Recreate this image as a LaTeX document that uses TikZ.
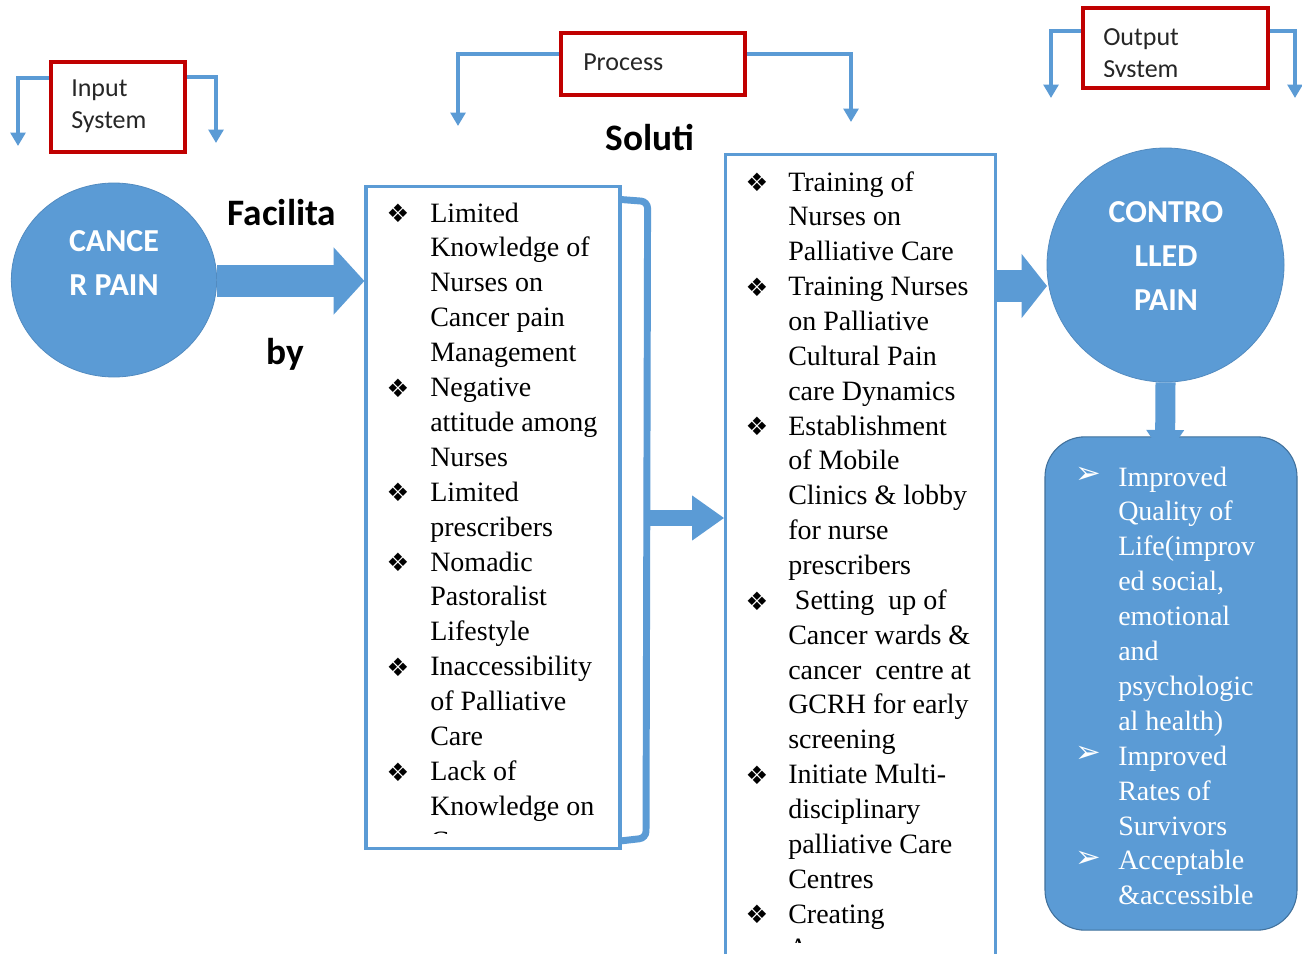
\documentclass[tikz,border=0pt]{standalone}
\usepackage{fontspec}
\setmainfont{Liberation Serif}
\newfontfamily\calib{Carlito}
\newfontfamily\djv{DejaVu Sans}
\usetikzlibrary{arrows.meta,shapes.geometric,calc}
\definecolor{ob}{HTML}{5B9BD5}
\definecolor{obd}{HTML}{41719C}
\definecolor{rd}{HTML}{C00000}
\definecolor{txt}{HTML}{262626}
\tikzset{
  redbox/.style={draw=rd, line width=3pt, fill=white, inner sep=0pt},
  elbow/.style={draw=ob, line width=3pt, -{Triangle[length=10pt,width=11pt]}},
  bluebox/.style={draw=ob, line width=2.4pt, fill=white, inner sep=0pt},
  bodytext/.style={anchor=base west, inner sep=0pt, text=black, font=\fontsize{21}{25}\selectfont},
  whitetext/.style={anchor=base west, inner sep=0pt, text=white, font=\fontsize{21}{25}\selectfont},
  dia/.style={anchor=center, inner sep=0pt, text=black, font=\djv\fontsize{19}{19}\selectfont},
  wbul/.style={anchor=center, inner sep=0pt, text=white, font=\djv\fontsize{23}{23}\selectfont},
  sanslabel/.style={inner sep=0pt, text=txt, font=\calib\fontsize{19.5}{24}\selectfont, align=left},
  boldlabel/.style={inner sep=0pt, text=black, font=\calib\bfseries\fontsize{28}{30}\selectfont},
  circ/.style={ellipse, fill=ob, draw=ob!90!black, line width=0.6pt, inner sep=0pt},
  circtext/.style={inner sep=0pt, text=white, align=center, font=\calib\bfseries\fontsize{24}{33}\selectfont},
  bigarrow/.style={draw=ob, line width=24pt, -{Triangle[length=23pt,width=49pt]}},
  midarrow/.style={draw=ob, line width=12pt, -{Triangle[length=24pt,width=32pt]}},
  downarrow/.style={draw=ob, line width=15pt, -{Triangle[length=21pt,width=27pt]}},
}
\begin{document}
\begin{tikzpicture}[x=0.75pt,y=-0.75pt]
\useasboundingbox (0,0) rectangle (1302,953);
\fill[white] (0,0) rectangle (1302,953);

% ---------- Input system ----------
\node[redbox, minimum width=100.5pt, minimum height=67.5pt] (inbox) at (118,107) {};
\node[sanslabel, anchor=west] (intxt) at (71,106) {Input\\System};
\coordinate (inL) at (18,146);
\coordinate (inR) at (216,143);
\draw[elbow] ($(inbox.north west)+(0,18)$) -| (inL);
\draw[elbow] ($(inbox.north east)+(0,17)$) -| (inR);

% ---------- Process ----------
\node[redbox, minimum width=138pt, minimum height=46.5pt] (prbox) at (653,64) {};
\node[sanslabel, anchor=west] (prtxt) at (583,62) {Process};
\coordinate (prL) at (458,126);
\coordinate (prR) at (851,122);
\draw[elbow] ($(prbox.north west)+(0,23)$) -| (prL);
\draw[elbow] ($(prbox.north east)+(0,23)$) -| (prR);

% ---------- Output system ----------
\node[redbox, minimum width=138.75pt, minimum height=60pt] (outbox) at (1175.5,48) {};
\begin{scope}
  \clip (1086,11) rectangle (1265,76);
  \node[sanslabel, anchor=west] (outtxt) at (1103,55) {Output\\System};
\end{scope}
\coordinate (outL) at (1051,98);
\coordinate (outR) at (1295,98);
\draw[elbow] ($(outbox.north west)+(0,25)$) -| (outL);
\draw[elbow] ($(outbox.north east)+(0,25)$) -| (outR);

% ---------- Cancer pain ----------
\node[circ, minimum width=154pt, minimum height=145.5pt] (cancer) at (114,280) {};
\node[circtext] (cancertxt) at (114,263) {CANCE\\R PAIN};
\node[boldlabel] (facil) at (282,213) {Facilita};
\node[boldlabel] (by) at (285,354) {by};

% ---------- Left box ----------
\node[bluebox, minimum width=190.5pt, minimum height=497pt] (lbox) at (493,517.5) {};
\begin{scope}
  \clip (368,188) rectangle (618,833);
  \foreach \t [count=\i from 0] in {Limited,Knowledge of,Nurses on,Cancer pain,Management,Negative,attitude among,Nurses,Limited,prescribers,Nomadic,Pastoralist,Lifestyle,Inaccessibility,of Palliative,Care,Lack of,Knowledge on,Cancer}
    \node[bodytext] (lt\i) at (430,{222+34.9*\i}) {\t};
\end{scope}
\foreach \i in {0,5,8,10,13,16}
  \node[dia] (lb\i) at (398,{213.5+34.9*\i}) {❖};

% bracket and arrow to middle box
\draw[ob, line width=5.2pt, rounded corners=5pt] (lbox.north east) ++(0,15) -- ++(26,2) -- (646,838) -- (620,841);
\coordinate (brk) at (646,518);

% ---------- Middle box ----------
\node[bluebox, minimum width=202pt, minimum height=605pt] (mbox) at (860.5,558) {};
\draw[midarrow] (brk) -- (brk -| mbox.west);
\node[boldlabel] (solut) at (650,138) {Soluti};
\begin{scope}
  \clip (729,157) rectangle (992,942);
  \foreach \t [count=\i from 0] in {Training of,Nurses on,Palliative Care,Training Nurses,on Palliative,Cultural Pain,care Dynamics,Establishment,of Mobile,Clinics \& lobby,for nurse,prescribers,\hspace{5pt}Setting\ \ up of,Cancer wards \&,cancer\ \ centre at,GCRH for early,screening,Initiate Multi-,disciplinary,palliative Care,Centres,Creating,Awareness}
    \node[bodytext] (mt\i) at (788,{191+34.86*\i}) {\t};
\end{scope}
\foreach \i in {0,3,7,12,17,21}
  \node[dia] (mb\i) at (757,{182.5+34.86*\i}) {❖};

% ---------- Controlled pain ----------
\node[circ, minimum width=177.75pt, minimum height=175.5pt] (ctrl) at (1165.5,265) {};
\node[circtext] (ctrltxt) at (1166,256) {CONTRO\\LLED\\PAIN};
\coordinate (tipc) at (1047,286);
\draw[bigarrow, line width=24pt, -{Triangle[length=19pt,width=47pt]}] (tipc -| mbox.east) -- (tipc);

\draw[bigarrow] (cancer.east |- 0,281) -- (lbox.west |- 0,281);

% ---------- Results box ----------
\node[fill=ob, draw=obd, line width=0.8pt, rounded corners=30pt, minimum width=189pt, minimum height=370pt, inner sep=0pt] (rbox) at (1171,683.5) {};
\coordinate (tipd) at (1165,458);
\draw[downarrow] (ctrl.south) -- (tipd);
\foreach \t [count=\i from 0] in {Improved,Quality of,Life(improv,{ed social,},emotional,and,psychologic,al health),Improved,Rates of,Survivors,Acceptable,\&accessible}
  \node[whitetext] (rt\i) at (1118,{486+34.9*\i}) {\t};
\foreach \i in {0,8,11}
  \node[wbul] (rb\i) at (1088,{475+34.9*\i}) {➢};
\end{tikzpicture}
\end{document}
